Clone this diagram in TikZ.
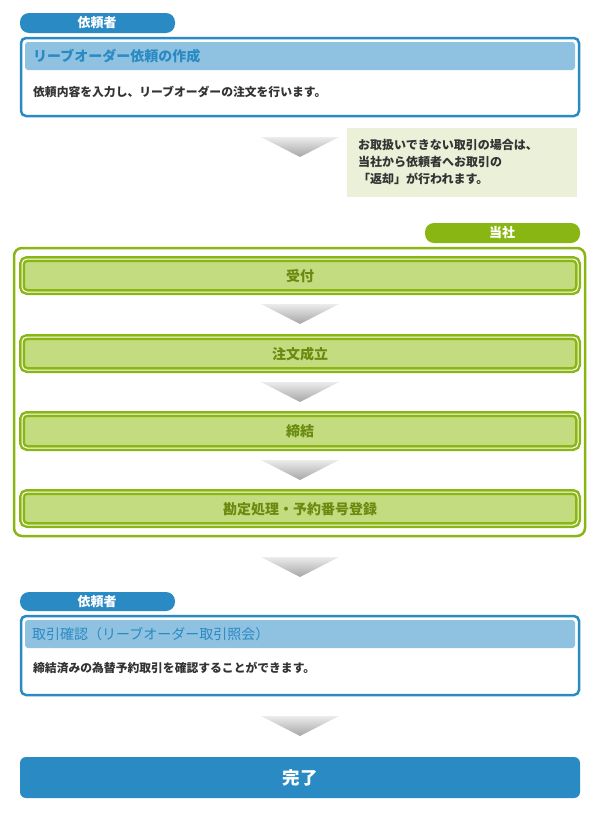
\documentclass[tikz,border=0pt]{standalone}
\usepackage{fontspec}
\setmainfont{Noto Sans CJK JP}
\definecolor{cblue}{HTML}{2A8AC4}
\definecolor{lblue}{HTML}{8FC1E0}
\definecolor{cgreen}{HTML}{8AB614}
\definecolor{lgreen}{HTML}{C3DC80}
\definecolor{dgreen}{HTML}{6A8A10}
\definecolor{notec}{HTML}{EBF1D8}
\definecolor{tdark}{HTML}{333333}
\tikzset{
  x=1pt,y=-1pt,
  pilltext/.style={text=white,font=\bfseries\fontsize{13}{13}\selectfont},
  mainbox/.style={draw=cblue,line width=2.5pt,fill=white,rounded corners=5pt},
  hdr/.style={fill=lblue,rounded corners=3pt},
  stepbox/.style={fill=lgreen,draw=cgreen,line width=2.5pt,rounded corners=5pt,double=white,double distance=1pt},
  steptext/.style={text=dgreen,font=\bfseries\fontsize{14}{14}\selectfont},
  bodytext/.style={text=tdark,font=\bfseries\fontsize{11.8}{11.8}\selectfont,anchor=west,inner sep=0},
}
\newcommand{\chev}[2]{\shade[top color=gray!15,bottom color=gray!70] (261,#1)--(339,#1)--(300,#1+20)--cycle; \coordinate (#2) at (300,#1+10);}
\begin{document}
\begin{tikzpicture}
\useasboundingbox (0,0) rectangle (600,814);
% requester 1
\fill[cblue,rounded corners=9pt] (20,13) rectangle (175,33);
\node[pilltext] (p1) at (97,23) {依頼者};
\draw[mainbox] (21,38) rectangle (579,116);
\fill[hdr] (25,42) rectangle (575,70);
\node[anchor=west,text=cblue,font=\bfseries\fontsize{14}{14}\selectfont,inner sep=0] (h1) at (33,56) {リーブオーダー依頼の作成};
\node[bodytext] (b1) at (33,92) {依頼内容を入力し、リーブオーダーの注文を行います。};
\chev{137}{c1}
\fill[notec] (347,128) rectangle (577,197);
\node[anchor=north west,text=tdark,font=\bfseries\fontsize{12}{17}\selectfont,align=left,inner sep=0] (note) at (358,139) {お取扱いできない取引の場合は、\\当社から依頼者へお取引の\\「返却」が行われます。};
% company
\fill[cgreen,rounded corners=9pt] (425,223) rectangle (580,243);
\node[pilltext] (p2) at (502,233) {当社};
\draw[cgreen,line width=2.5pt,rounded corners=8pt] (14,248) rectangle (585,536);
\draw[stepbox] (22,259) rectangle (578,292);
\node[steptext] (s1) at (300,276) {受付};
\chev{304}{c2}
\draw[stepbox] (22,337) rectangle (578,370);
\node[steptext] (s2) at (300,354) {注文成立};
\chev{382}{c3}
\draw[stepbox] (22,414) rectangle (578,448);
\node[steptext] (s3) at (300,431) {締結};
\chev{460}{c4}
\draw[stepbox] (22,492) rectangle (578,525);
\node[steptext] (s4) at (300,509) {勘定処理・予約番号登録};
\chev{557}{c5}
% requester 2
\fill[cblue,rounded corners=9pt] (20,592) rectangle (175,611);
\node[pilltext] (p3) at (97,601.5) {依頼者};
\draw[mainbox] (21,616) rectangle (579,695);
\fill[hdr] (25,620) rectangle (575,648);
\node[anchor=west,text=cblue,font=\fontsize{14}{14}\selectfont,inner sep=0] (h2) at (32,634) {取引確認（リーブオーダー取引照会）};
\node[bodytext] (b2) at (33,668) {締結済みの為替予約取引を確認することができます。};
\chev{716}{c6}
\fill[cblue,rounded corners=6pt] (20,757) rectangle (580,798);
\node[text=white,font=\bfseries\fontsize{17.5}{17.5}\selectfont] (done) at (300,777.5) {完了};
\end{tikzpicture}
\end{document}
